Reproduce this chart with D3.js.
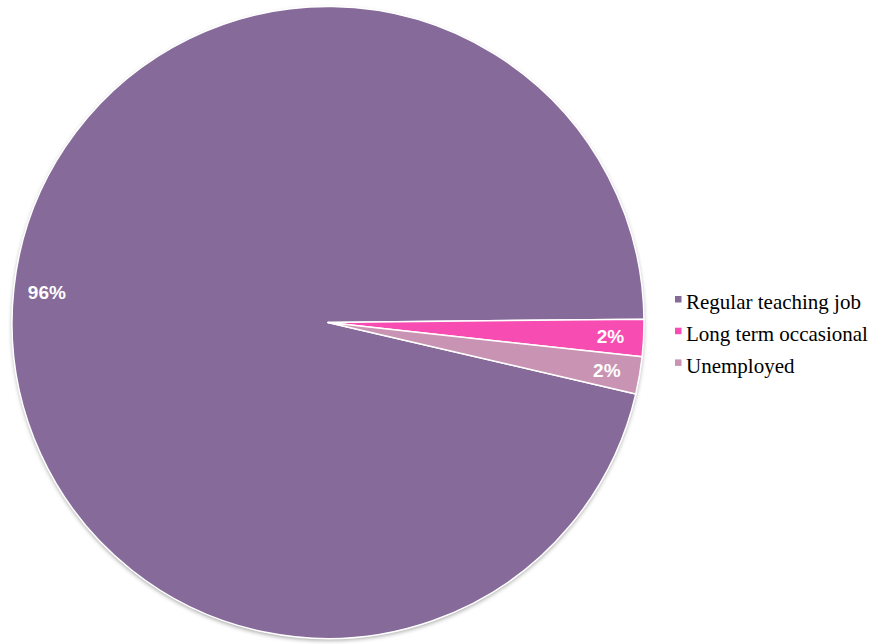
<!DOCTYPE html>
<html><head><meta charset="utf-8">
<script src="https://cdn.jsdelivr.net/npm/d3@7"></script>
<style>html,body{margin:0;padding:0;background:#fff;}</style>
</head><body>
<svg id="chart" width="874" height="644"></svg>
<script>
const categories = ["Regular teaching job", "Long term occasional", "Unemployed"];
const values = [96.2, 1.9, 1.9];
const labels = ["96%", "2%", "2%"];
const colors = ["#866a9a", "#f74db3", "#c994b3"];

const svg = d3.select("#chart");
const cx = 328, cy = 322.5, R = 316;
const defs = svg.append("defs");
const f = defs.append("filter").attr("id","sh").attr("x","-10%").attr("y","-10%").attr("width","120%").attr("height","120%");
f.append("feDropShadow").attr("dx",0).attr("dy",2).attr("stdDeviation",2).attr("flood-color","#000").attr("flood-opacity",0.35);

const endReg = (90 - 0.6) * Math.PI / 180;
const span = values[0] / d3.sum(values) * 2 * Math.PI;
const start = endReg - span;
const pie = d3.pie().sort(null).startAngle(start).endAngle(start + 2*Math.PI);
const arcs = pie(values);
const arc = d3.arc().innerRadius(0).outerRadius(R);
const labArc = d3.arc().innerRadius(R*0.895).outerRadius(R*0.895);

const g = svg.append("g").attr("transform", `translate(${cx},${cy})`);
g.append("circle").attr("r", R).attr("fill", "#fff").attr("filter","url(#sh)");
g.selectAll("path.slice").data(arcs).join("path")
  .attr("class","slice")
  .attr("d", arc)
  .attr("fill", (d,i) => colors[i])
  .attr("stroke", "#fff").attr("stroke-width", 1.5).attr("stroke-linejoin","round");
g.selectAll("text.lab").data(arcs).join("text")
  .attr("class","lab")
  .attr("transform", d => `translate(${labArc.centroid(d)})`)
  .attr("text-anchor","middle").attr("dy","0.36em")
  .attr("fill","#fff").attr("font-family","'Liberation Sans', Arial, sans-serif")
  .attr("font-weight","bold").attr("font-size","19px")
  .text((d,i) => labels[i]);

const lg = svg.append("g").attr("transform","translate(675,296)");
const rows = lg.selectAll("g").data(categories).join("g")
  .attr("transform",(d,i)=>`translate(0,${i*31.7})`);
rows.append("rect").attr("width",6.5).attr("height",6.5).attr("fill",(d,i)=>colors[i]);
rows.append("text").attr("x",11).attr("y",13.3)
  .attr("font-family","'Liberation Serif','Times New Roman',serif").attr("font-size","21px")
  .attr("fill","#000").text(d=>d);
</script>
</body></html>
